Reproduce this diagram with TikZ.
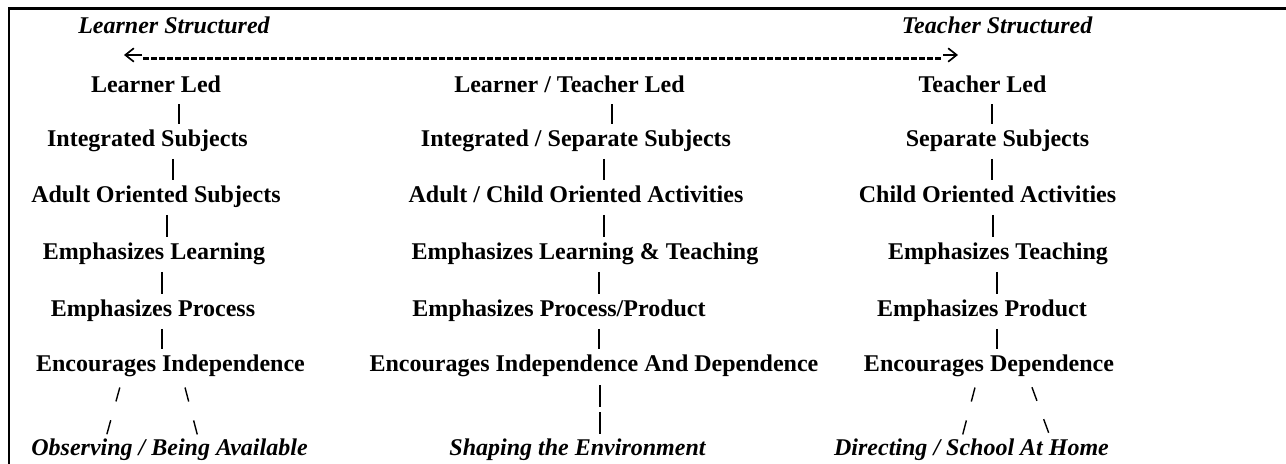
\documentclass[tikz,border=0pt]{standalone}
\usepackage{fontspec}
\setmainfont{Liberation Serif}
\usetikzlibrary{arrows.meta}

\begin{document}
\begin{tikzpicture}[
    lbl/.style={font=\bfseries\fontsize{13.66}{16}\selectfont, inner sep=0pt, anchor=base, text height=0.33cm, text depth=0.11cm},
    ital/.style={lbl, font=\bfseries\itshape\fontsize{13.66}{16}\selectfont},
    bar/.style={line width=1pt, shorten <=0.12cm, shorten >=0.12cm},
    branch/.style={line width=0.8pt, shorten <=0.2cm, dash pattern=on 0.29cm off 0.39cm},
    tip/.style={line width=0.95pt, -{Straight Barb[length=0.17cm,width=0.27cm]}}]
    \useasboundingbox (0,0) rectangle (25.72,9.28);

    % Frame
    \draw[line width=1.4pt] (0.18,0) -- (0.18,9.11) -- (25.72,9.11);

    % Ends of the scale
    \node[ital] (lstr) at (3.48,8.60) {Learner Structured};
    \node[ital] (tstr) at (19.94,8.60) {Teacher Structured};

    % Scale arrow
    \coordinate (lend) at (2.48,8.18);
    \coordinate (lstem) at (2.84,8.18);
    \coordinate (rstem) at (18.86,8.18);
    \coordinate (rend) at (19.16,8.18);
    \coordinate (ldash) at (2.86,8.11);
    \coordinate (rdash) at (18.86,8.11);
    \draw[line width=1.3pt, dash pattern=on 0.11cm off 0.05cm] (ldash) -- (rdash);
    \draw[tip] (lstem) -- (lend);
    \draw[tip] (rstem) -- (rend);

    % Learner led column
    \node[lbl] (ll) at (3.12,7.43) {Learner Led};
    \node[lbl] (lis) at (2.95,6.34) {Integrated Subjects};
    \node[lbl] (las) at (3.12,5.22) {Adult Oriented Subjects};
    \node[lbl] (lel) at (3.08,4.08) {Emphasizes Learning};
    \node[lbl] (lep) at (3.06,2.94) {Emphasizes Process};
    \node[lbl] (lei) at (3.41,1.84) {Encourages Independence};
    \node[ital] (lobs) at (3.39,0.16) {Observing / Being Available};

    % Mixed column
    \node[lbl] (ml) at (11.39,7.43) {Learner / Teacher Led};
    \node[lbl] (mis) at (11.52,6.34) {Integrated / Separate Subjects};
    \node[lbl] (mas) at (11.52,5.22) {Adult / Child Oriented Activities};
    \node[lbl] (mel) at (11.70,4.08) {Emphasizes Learning \& Teaching};
    \node[lbl] (mep) at (11.18,2.94) {Emphasizes Process/Product};
    \node[lbl] (mei) at (11.88,1.84) {Encourages Independence And Dependence};
    \node[ital] (mobs) at (11.55,0.16) {Shaping the Environment};

    % Teacher led column
    \node[lbl] (tl) at (19.65,7.43) {Teacher Led};
    \node[lbl] (tis) at (19.95,6.34) {Separate Subjects};
    \node[lbl] (tas) at (19.75,5.22) {Child Oriented Activities};
    \node[lbl] (tel) at (19.96,4.08) {Emphasizes Teaching};
    \node[lbl] (tep) at (19.64,2.94) {Emphasizes Product};
    \node[lbl] (tei) at (19.78,1.84) {Encourages Dependence};
    \node[ital] (tobs) at (19.43,0.16) {Directing / School At Home};

    % Bars
    \draw[bar] (ll.south -| 3.58,0) -- (lis.north -| 3.58,0);
    \draw[bar] (lis.south -| 3.46,0) -- (las.north -| 3.46,0);
    \draw[bar] (las.south -| 3.34,0) -- (lel.north -| 3.34,0);
    \draw[bar] (lel.south -| 3.24,0) -- (lep.north -| 3.24,0);
    \draw[bar] (lep.south -| 3.24,0) -- (lei.north -| 3.24,0);

    \draw[bar] (ml.south -| 12.24,0) -- (mis.north -| 12.24,0);
    \draw[bar] (mis.south -| 12.08,0) -- (mas.north -| 12.08,0);
    \draw[bar] (mas.south -| 12.08,0) -- (mel.north -| 12.08,0);
    \draw[bar] (mel.south -| 11.98,0) -- (mep.north -| 11.98,0);
    \draw[bar] (mep.south -| 11.98,0) -- (mei.north -| 11.98,0);
    \draw[bar, shorten <=0.15cm, shorten >=0.1cm, dash pattern=on 0.44cm off 0.1cm] (mei.south -| 12,0) -- (mobs.north -| 12,0);

    \draw[bar] (tl.south -| 19.84,0) -- (tis.north -| 19.84,0);
    \draw[bar] (tis.south -| 19.84,0) -- (tas.north -| 19.84,0);
    \draw[bar] (tas.south -| 19.86,0) -- (tel.north -| 19.86,0);
    \draw[bar] (tel.south -| 19.94,0) -- (tep.north -| 19.94,0);
    \draw[bar] (tep.south -| 19.94,0) -- (tei.north -| 19.94,0);

    % Branches
    \draw[branch] ([xshift=-0.96cm]lei.south) -- ([xshift=-1.28cm]lobs.north);
    \draw[branch] ([xshift=0.24cm]lei.south) -- ([xshift=0.58cm]lobs.north);
    \draw[branch] ([xshift=-0.23cm]tei.south) -- ([xshift=-0.20cm]tobs.north);
    \draw[branch] ([xshift=0.79cm]tei.south) -- ([xshift=1.59cm]tobs.north);
\end{tikzpicture}
\end{document}
